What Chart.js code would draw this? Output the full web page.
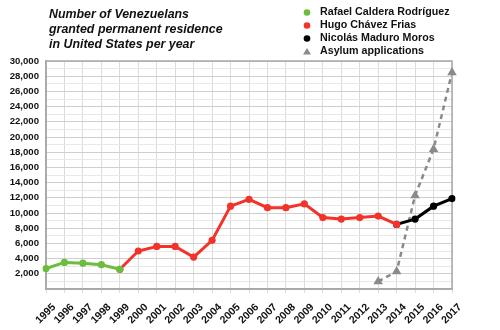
<!DOCTYPE html>
<html>
<head>
<meta charset="utf-8">
<script src="https://cdn.jsdelivr.net/npm/chart.js@4"></script>
<style>
    html, body { margin: 0; padding: 0; background: #fff; }
    #wrap { width: 500px; height: 330px; }
</style>
</head>
<body>
<div id="wrap"><canvas id="residenceChart"></canvas></div>
<script>
const years = ['1995', '1996', '1997', '1998', '1999', '2000', '2001', '2002', '2003', '2004', '2005', '2006',
    '2007', '2008', '2009', '2010', '2011', '2012', '2013', '2014', '2015', '2016', '2017'];

const calderaValues = [2700, 3500, 3400, 3200, 2600, null, null, null, null, null, null, null,
    null, null, null, null, null, null, null, null, null, null, null];
const chavezValues = [null, null, null, null, 2600, 5000, 5600, 5600, 4200, 6400, 10900, 11800,
    10700, 10700, 11200, 9400, 9200, 9400, 9600, 8500, null, null, null];
const maduroValues = [null, null, null, null, null, null, null, null, null, null, null, null,
    null, null, null, null, null, null, null, 8500, 9200, 10900, 11900];
const asylumValues = [null, null, null, null, null, null, null, null, null, null, null, null,
    null, null, null, null, null, null, 1000, 2300, 12300, 18400, 28500];

const titleLines = ['Number of Venezuelans', 'granted permanent residence', 'in United States per year'];

const FONT = 'Liberation Sans, Arial, Helvetica, sans-serif';

// title, legend and the box round the plot are drawn by hand
const decorations = {
    id: 'decorations',
    beforeDatasetsDraw(chart) {
        const { ctx, chartArea } = chart;
        ctx.save();
        ctx.strokeStyle = '#a8a8a8';
        ctx.lineWidth = 1.5;
        ctx.strokeRect(chartArea.left, chartArea.top, chartArea.right - chartArea.left, chartArea.bottom - chartArea.top);
        ctx.restore();
    },
    afterDraw(chart) {
        const { ctx } = chart;
        ctx.save();
        ctx.fillStyle = '#111';
        ctx.font = 'italic bold 12.4px ' + FONT;
        ctx.textBaseline = 'middle';
        titleLines.forEach((line, i) => ctx.fillText(line, 49, 15 + i * 14.7));

        ctx.font = 'bold 10.7px ' + FONT;
        chart.data.datasets.forEach((ds, i) => {
            const y = 12.5 + i * 13;
            ctx.fillStyle = ds.borderColor;
            ctx.beginPath();
            if (ds.pointStyle === 'triangle') {
                ctx.moveTo(307, y - 3.5);
                ctx.lineTo(311, y + 3);
                ctx.lineTo(303, y + 3);
            } else {
                ctx.arc(307, y, 3.3, 0, Math.PI * 2);
            }
            ctx.fill();
            ctx.fillStyle = '#111';
            ctx.fillText(ds.label, 320, y);
        });
        ctx.restore();
    }
};

const makeLine = (label, values, color, extra) => Object.assign({
    label: label,
    data: values,
    borderColor: color,
    backgroundColor: color,
    borderWidth: 3,
    pointRadius: 3.6,
    pointHoverRadius: 3.6,
    pointBorderWidth: 0,
    tension: 0,
    spanGaps: false
}, extra || {});

new Chart(document.getElementById('residenceChart'), {
    type: 'line',
    data: {
        labels: years,
        datasets: [
            makeLine('Rafael Caldera Rodríguez', calderaValues, '#6cbd3e'),
            makeLine('Hugo Chávez Frias', chavezValues, '#f2332a'),
            makeLine('Nicolás Maduro Moros', maduroValues, '#000000'),
            makeLine('Asylum applications', asylumValues, '#8a8a8a', {
                borderWidth: 2.5,
                borderDash: [5, 4],
                pointStyle: 'triangle',
                pointRadius: 5.5
            })
        ]
    },
    options: {
        responsive: true,
        maintainAspectRatio: false,
        animation: false,
        layout: { padding: { top: 61, right: 48, left: 4, bottom: 0 } },
        plugins: {
            legend: { display: false },
            title: { display: false },
            tooltip: { enabled: false }
        },
        scales: {
            x: {
                offset: false,
                afterFit: (scale) => { scale.height = 41; },
                grid: { color: '#dcdcdc', lineWidth: 1, drawTicks: true, tickLength: 4 },
                border: { color: '#a8a8a8', width: 1.5 },
                ticks: {
                    minRotation: 45,
                    maxRotation: 45,
                    autoSkip: false,
                    padding: 8,
                    labelOffset: 8,
                    color: '#111',
                    font: { family: FONT, size: 10.5, weight: 'bold' }
                }
            },
            y: {
                min: 0,
                max: 30000,
                afterFit: (scale) => { scale.width = 42; },
                grid: {
                    color: (c) => (c.tick && c.tick.value % 2000 === 0) ? '#cfcfcf' : '#e8e8e8',
                    lineWidth: 1,
                    drawTicks: false
                },
                border: { color: '#a8a8a8', width: 1.5 },
                ticks: {
                    stepSize: 1000,
                    autoSkip: false,
                    padding: 7,
                    color: '#111',
                    font: { family: FONT, size: 9.6, weight: 'bold' },
                    callback: (v) => (v > 0 && v % 2000 === 0) ? v.toLocaleString('en-US') : ''
                }
            }
        }
    },
    plugins: [decorations]
});
</script>
</body>
</html>
